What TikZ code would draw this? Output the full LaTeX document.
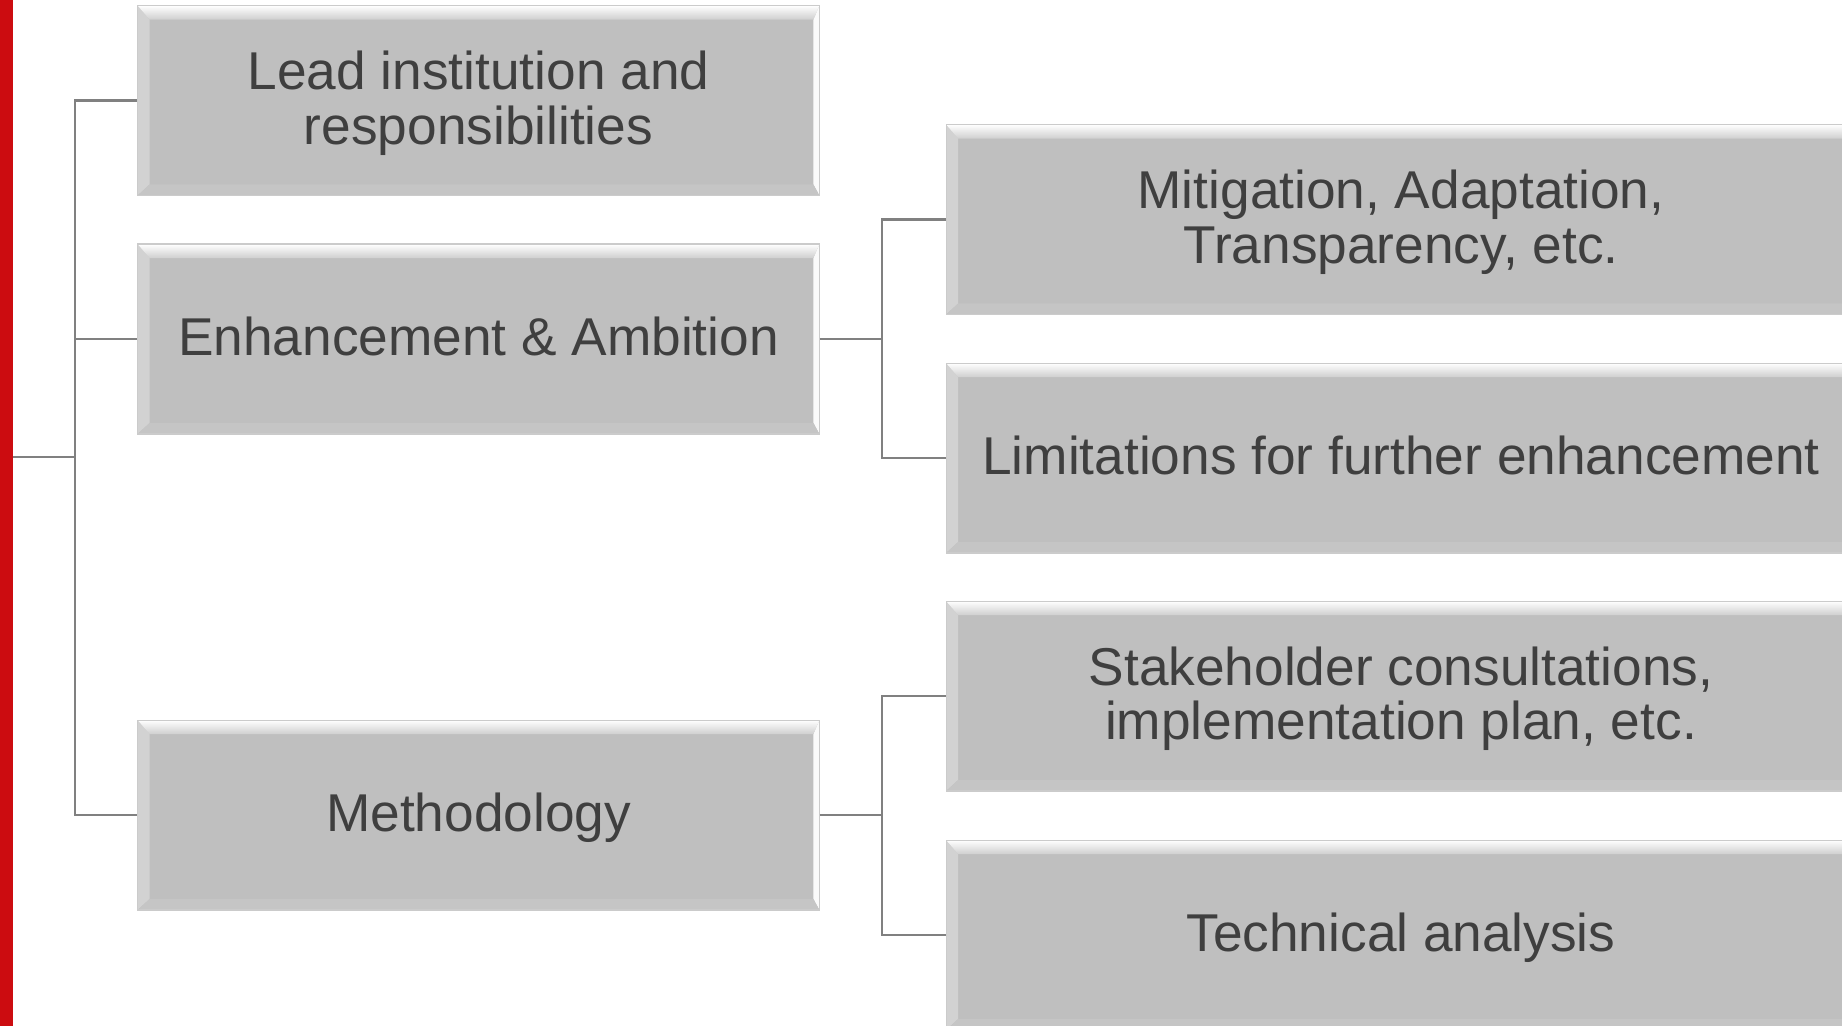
\documentclass[tikz,border=0pt]{standalone}
\usepackage{fontspec}
\setmainfont{Liberation Sans}
\definecolor{barred}{HTML}{CC0C10}
\definecolor{boxfill}{HTML}{BFBFBF}
\definecolor{boxline}{HTML}{CBCBCB}
\definecolor{linkgray}{HTML}{808080}
\definecolor{textgray}{HTML}{3F3F3F}
\newcommand{\boxstrut}{\rule[-7.2pt]{0pt}{33.2pt}}

\begin{document}
\begin{tikzpicture}[x=0.02cm,y=-0.02cm,
  link/.style={draw=linkgray,line width=1.6pt},
  bevelbox/.style={draw=boxline,line width=0.6pt,fill=boxfill,inner sep=0pt,
    minimum height=3.8cm,align=center,text=textgray,
    font=\fontsize{30.3}{30.8}\selectfont,
    execute at end node={\boxstrut},
    path picture={
      \coordinate (pnw) at (path picture bounding box.north west);
      \coordinate (pne) at (path picture bounding box.north east);
      \coordinate (psw) at (path picture bounding box.south west);
      \coordinate (pse) at (path picture bounding box.south east);
      \fill[boxfill!70!white] (pnw) -- ([shift={(0.24cm,-0.28cm)}]pnw)
        -- ([shift={(0.24cm,0.22cm)}]psw) -- (psw) -- cycle;
      \fill[white!92!boxfill] (pne) -- (pse) -- ([shift={(-0.12cm,0.22cm)}]pse)
        -- ([shift={(-0.12cm,-0.28cm)}]pne) -- cycle;
      \fill[boxfill!90!white] (psw) -- (pse) -- ([shift={(-0.12cm,0.22cm)}]pse)
        -- ([shift={(0.24cm,0.22cm)}]psw) -- cycle;
      \shade[top color=white,bottom color=boxfill!75!white] (pnw) -- (pne)
        -- ([shift={(-0.12cm,-0.28cm)}]pne) -- ([shift={(0.24cm,-0.28cm)}]pnw) -- cycle;
    }},
  leftbox/.style={bevelbox,minimum width=13.64cm},
  rightbox/.style={bevelbox,minimum width=18.2cm}]
\useasboundingbox (0,0) rectangle (1842,1025);
\clip (0,0) rectangle (1842,1025);

% red margin bar
\fill[barred] (0,-10) rectangle (13,1040);
\coordinate (root) at (13,457);
\coordinate (fork) at (75,457);

% first level
\node[leftbox] (lead) at (478.5,100.5) {\boxstrut Lead institution and\\responsibilities};
\node[leftbox] (enh) at (478.5,339) {Enhancement \& Ambition};
\node[leftbox] (meth) at (478.5,815) {Methodology};

% second level
\node[rightbox] (miti) at (1401,219.5) {\boxstrut Mitigation, Adaptation,\\Transparency, etc.};
\node[rightbox] (limi) at (1401,458) {Limitations for further enhancement};
\node[rightbox] (stak) at (1401,696) {\boxstrut Stakeholder consultations,\\implementation plan, etc.};
\node[rightbox] (tech) at (1401,935) {Technical analysis};

\coordinate (enhfork) at ([xshift=1.24cm]enh.east);
\coordinate (methfork) at ([xshift=1.24cm]meth.east);

\draw[link] (root) -- (fork);
\draw[link] (fork) |- (lead);
\draw[link] (fork) |- (enh);
\draw[link] (fork) |- (meth);
\draw[link] (enh) -- (enhfork);
\draw[link] (enhfork) |- (miti);
\draw[link] (enhfork) |- (limi);
\draw[link] (meth) -- (methfork);
\draw[link] (methfork) |- (stak);
\draw[link] (methfork) |- (tech);
\end{tikzpicture}
\end{document}
